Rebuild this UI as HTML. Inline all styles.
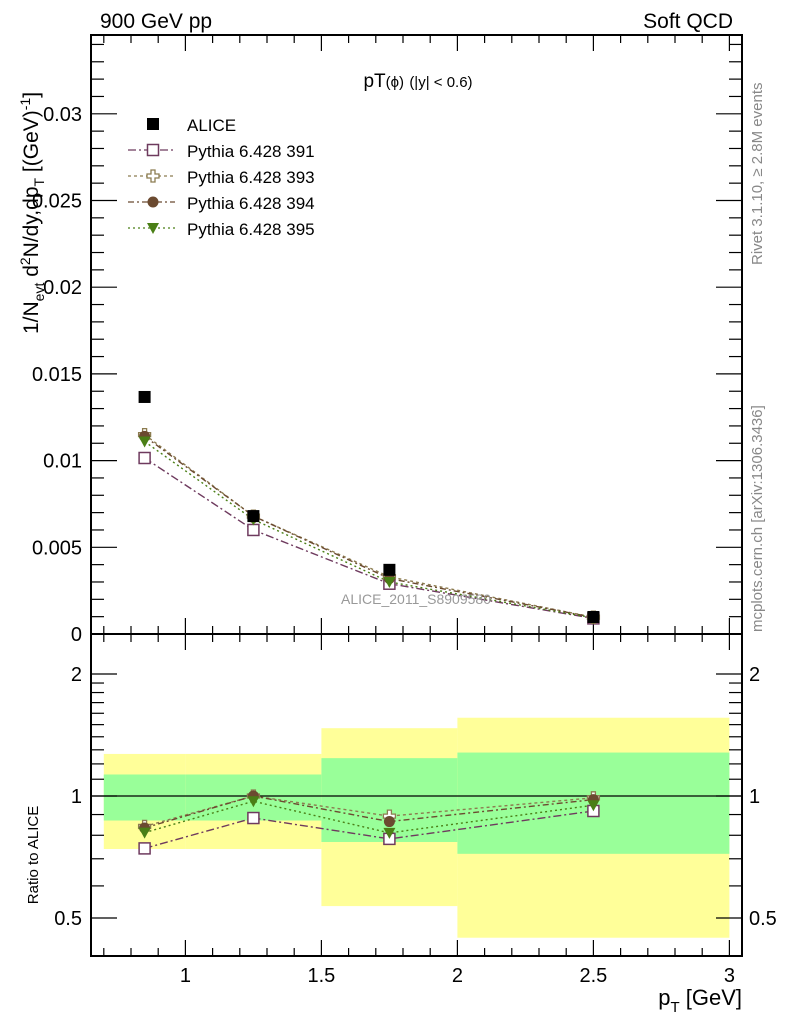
<!DOCTYPE html>
<html><head><meta charset="utf-8"><style>
html,body{margin:0;padding:0;background:#fff;}
svg{display:block;font-family:"Liberation Sans",sans-serif;}
</style></head><body>
<svg id="chart" width="786" height="1024" viewBox="0 0 786 1024">
<g id="bands"></g>
<g id="axes"></g>
<g id="series"></g>
<text x="100" y="28" font-size="21">900 GeV pp</text>
<text x="733" y="28" font-size="21" text-anchor="end">Soft QCD</text>
<text x="418" y="87" font-size="19" text-anchor="middle">pT<tspan font-size="15">(ϕ)</tspan> <tspan font-size="15">(|y| &lt; 0.6)</tspan></text>
<text x="416" y="604" font-size="14" fill="#999" text-anchor="middle">ALICE_2011_S8909580</text>
<text transform="translate(762,265) rotate(-90)" font-size="15" fill="#888">Rivet 3.1.10, ≥ 2.8M events</text>
<text transform="translate(762,632) rotate(-90)" font-size="15" fill="#888">mcplots.cern.ch [arXiv:1306.3436]</text>
<text transform="translate(38,334) rotate(-90)" font-size="21">1/N<tspan font-size="14" dy="6">evt</tspan><tspan dy="-6"> d</tspan><tspan font-size="14" dy="-8">2</tspan><tspan dy="8">N/dy,dp</tspan><tspan font-size="14" dy="6">T</tspan><tspan dy="-6"> [(GeV)</tspan><tspan font-size="14" dy="-8">-1</tspan><tspan dy="8">]</tspan></text>
<text transform="translate(38,855) rotate(-90)" font-size="15" text-anchor="middle">Ratio to ALICE</text>
<text x="742" y="1005" font-size="22" text-anchor="end">p<tspan font-size="15" dy="7">T</tspan><tspan dy="-7"> [GeV]</tspan></text>
<g id="legend"></g>
</svg>
<script>
const xCenters=[0.85,1.25,1.75,2.5];
const binEdges=[0.7,1.0,1.5,2.0,3.0];
const alice=[0.01367,0.0068,0.0037,0.00098];
const py391=[0.01015,0.0060,0.0029,0.00090];
const py393=[0.0115,0.0068,0.0033,0.00097];
const py394=[0.0114,0.0068,0.0032,0.00096];
const py395=[0.0111,0.0066,0.0030,0.00093];
const bandYellowHi=[1.27,1.27,1.47,1.56];
const bandYellowLo=[0.74,0.74,0.535,0.447];
const bandGreenHi=[1.13,1.13,1.24,1.28];
const bandGreenLo=[0.87,0.87,0.77,0.72];
const xTicks=[1,1.5,2,2.5,3];
const yTicks=[0,0.005,0.01,0.015,0.02,0.025,0.03];
const yTickLabels=["0","0.005","0.01","0.015","0.02","0.025","0.03"];
const rTicks=[0.5,1,2];
const rTickLabels=["0.5","1","2"];

const NS="http://www.w3.org/2000/svg";
const L=91,R=742,T=35,MB=634,RB=956;
const X=v=>185.4+(v-1)*272;
const Y=v=>634-v*17340;
const RY=r=>796-122*Math.log2(r);
function mk(tag,attrs,parent){const e=document.createElementNS(NS,tag);for(const k in attrs)e.setAttribute(k,attrs[k]);parent.appendChild(e);return e;}
const bands=document.getElementById('bands'),axes=document.getElementById('axes'),ser=document.getElementById('series'),leg=document.getElementById('legend');

for(let i=0;i<xCenters.length;i++){
  const x0=X(binEdges[i]),x1=X(binEdges[i+1]);
  let r=mk('rect',{x:x0,y:RY(bandYellowHi[i]),width:x1-x0,height:RY(bandYellowLo[i])-RY(bandYellowHi[i]),fill:'#ffff99'},bands);
  
  
  r=mk('rect',{x:x0,y:RY(bandGreenHi[i]),width:x1-x0,height:RY(bandGreenLo[i])-RY(bandGreenHi[i]),fill:'#99ff99'},bands);
  
  
}
let l=mk('line',{x1:L,x2:R,y1:RY(1),y2:RY(1),stroke:'#000','stroke-width':1.3},bands);



// frames
let f=mk('rect',{x:L,y:T,width:R-L,height:MB-T,fill:'none',stroke:'#000','stroke-width':2},axes);


f=mk('rect',{x:L,y:MB,width:R-L,height:RB-MB,fill:'none',stroke:'#000','stroke-width':2},axes);



// x ticks
for(let v=0.7;v<=3.001;v+=0.1){
  const vv=Math.round(v*10)/10;const maj=Math.abs(vv*2-Math.round(vv*2))<1e-6;const h=maj?16:8;const x=X(vv);
  for(const [yb,ysgn] of [[MB,-1],[T,1],[RB,-1],[MB,1]]){
    const t=mk('line',{x1:x,x2:x,y1:yb,y2:yb+ysgn*h,stroke:'#000','stroke-width':1.2},axes);
    
    
  }
}
xTicks.forEach(v=>{const t=mk('text',{x:X(v),y:982,'font-size':20,'text-anchor':'middle'},axes);t.textContent=String(v);
  
  });
// y ticks main
for(let k=0;k<=34;k++){
  const v=k*0.001;const maj=k%5===0;const h=maj?26:13;const y=Y(v);
  let t=mk('line',{x1:L,x2:L+h,y1:y,y2:y,stroke:'#000','stroke-width':1.2},axes);
  
  
  t=mk('line',{x1:R,x2:R-h,y1:y,y2:y,stroke:'#000','stroke-width':1.2},axes);
  
  
}
yTicks.forEach((v,i)=>{const t=mk('text',{x:82,y:Y(v)+7,'font-size':20,'text-anchor':'end'},axes);t.textContent=yTickLabels[i];
  
  });
// ratio ticks
const rMinor=[0.5,0.6,0.7,0.8,0.9,1,1.1,1.2,1.3,1.4,1.5,1.6,1.7,1.8,1.9,2];
rMinor.forEach(v=>{const maj=rTicks.includes(v);const h=maj?26:13;const y=RY(v);
  let t=mk('line',{x1:L,x2:L+h,y1:y,y2:y,stroke:'#000','stroke-width':1.2},axes);
  
  
  t=mk('line',{x1:R,x2:R-h,y1:y,y2:y,stroke:'#000','stroke-width':1.2},axes);
  
  });
rTicks.forEach((v,i)=>{for(const [x,a] of [[82,'end'],[749,'start']]){const t=mk('text',{x:x,y:RY(v)+7,'font-size':20,'text-anchor':a},axes);t.textContent=rTickLabels[i];
  
  }});

function marker(type,color,x,y,parent,name){
  let m;
  if(type==='sq') m=mk('rect',{x:x-5.5,y:y-5.5,width:11,height:11,fill:'#fff',stroke:color,'stroke-width':1.5},parent);
  else if(type==='cross') m=mk('path',{d:`M${x-2} ${y-6}h4v4h4v4h-4v4h-4v-4h-4v-4h4z`,fill:'#fff',stroke:color,'stroke-width':1.3},parent);
  else if(type==='circ') m=mk('circle',{cx:x,cy:y,r:5.5,fill:color},parent);
  else if(type==='tri') m=mk('path',{d:`M${x-6} ${y-5}h12l-6 11z`,fill:color},parent);
  else m=mk('rect',{x:x-6,y:y-6,width:12,height:12,fill:'#000'},parent);
  
  
}
const series=[
 {d:py391,c:'#6e3a5e',m:'sq',dash:'8,3,2,3',n:'Pythia 6.428 391',id:'391'},
 {d:py393,c:'#8c7c50',m:'cross',dash:'3,3',n:'Pythia 6.428 393',id:'393'},
 {d:py394,c:'#6b4a30',m:'circ',dash:'6,3,2,3',n:'Pythia 6.428 394',id:'394'},
 {d:py395,c:'#4a7f16',m:'tri',dash:'2,3',n:'Pythia 6.428 395',id:'395'}];
series.forEach(s=>{
  const pts=s.d.map((v,i)=>X(xCenters[i])+','+Y(v)).join(' ');
  let p=mk('polyline',{points:pts,fill:'none',stroke:s.c,'stroke-width':1.4,'stroke-dasharray':s.dash},ser);
  
  
  const rp=s.d.map((v,i)=>X(xCenters[i])+','+RY(v/alice[i])).join(' ');
  p=mk('polyline',{points:rp,fill:'none',stroke:s.c,'stroke-width':1.4,'stroke-dasharray':s.dash},ser);
  
  
});
series.forEach(s=>{s.d.forEach((v,i)=>{marker(s.m,s.c,X(xCenters[i]),Y(v),ser,'point-'+s.id);marker(s.m,s.c,X(xCenters[i]),RY(v/alice[i]),ser,'ratio-point-'+s.id);});});
alice.forEach((v,i)=>marker('alice','#000',X(xCenters[i]),Y(v),ser,'alice-point'));

// legend
let t=mk('text',{x:187,y:131,'font-size':17},leg);t.textContent='ALICE';


marker('alice','#000',153,124,leg,'legend-marker-alice');
series.forEach((s,i)=>{const y=150+i*26;
  const ln=mk('line',{x1:128,x2:175,y1:y,y2:y,stroke:s.c,'stroke-width':1.3,'stroke-dasharray':s.dash},leg);
  
  
  marker(s.m,s.c,153,y,leg,'legend-marker-'+s.id);
  const tx=mk('text',{x:187,y:y+7,'font-size':17},leg);tx.textContent=s.n;
  
  
});
</script>
</body></html>
